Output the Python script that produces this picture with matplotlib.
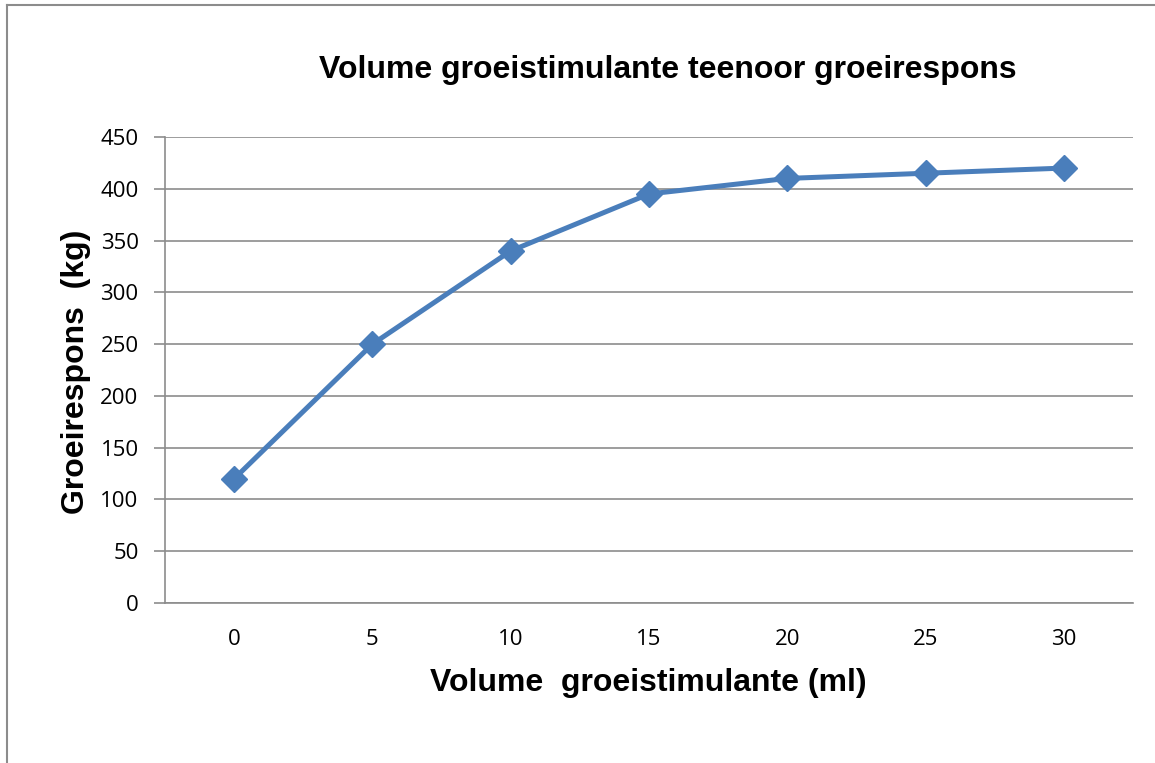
import numpy as np
import matplotlib.pyplot as plt
from matplotlib.lines import Line2D

volume = [0, 5, 10, 15, 20, 25, 30]
respons = [120, 250, 340, 395, 410, 415, 420]
y_ticks = [0, 50, 100, 150, 200, 250, 300, 350, 400, 450]

W, H = 1155, 763
fig = plt.figure(figsize=(W / 100, H / 100), dpi=100)
ax = fig.add_axes([165 / W, 1 - 603 / H, (1133 - 165) / W, (603 - 137) / H])

grey = '#8c8c8c'
blue = '#4a7ebb'

xpos = np.arange(len(volume))
ax.plot(xpos, respons, color=blue, lw=3.6, marker='D', ms=13,
        markerfacecolor=blue, markeredgecolor=blue, zorder=3)

ax.set_xlim(-0.5, len(volume) - 0.5)
ax.set_ylim(0, 450)
ax.set_yticks(y_ticks)
ax.set_xticks(xpos)
ax.set_xticklabels([str(v) for v in volume])
ax.grid(axis='y', color=grey, lw=1.2)
ax.set_axisbelow(True)

for s in ['top', 'right']:
    ax.spines[s].set_visible(False)
for s in ['left', 'bottom']:
    ax.spines[s].set_color(grey)
    ax.spines[s].set_linewidth(1.2)

tick_font = 'Open Sans'
ax.tick_params(axis='y', length=8, width=1.2, color=grey, pad=11, labelsize=16)
ax.tick_params(axis='x', length=0, pad=19, labelsize=16)
for lab in ax.get_xticklabels() + ax.get_yticklabels():
    lab.set_fontfamily(tick_font)

fig.text(668 / W, 1 - 70 / H, 'Volume groeistimulante teenoor groeirespons',
         ha='center', va='center', fontsize=23, fontweight='bold',
         family='Liberation Sans')
fig.text(648 / W, 1 - 683 / H, 'Volume  groeistimulante (ml)',
         ha='center', va='center', fontsize=23, fontweight='bold',
         family='Liberation Sans')
fig.text(76 / W, 1 - 372 / H, 'Groeirespons  (kg)', rotation=90,
         ha='center', va='center', fontsize=23, fontweight='bold',
         family='Liberation Sans')

# chart border (left and top edges visible)
fig.add_artist(Line2D([7 / W, 7 / W], [0, 1 - 5 / H], color=grey, lw=1.5))
fig.add_artist(Line2D([7 / W, 1], [1 - 5 / H, 1 - 5 / H], color=grey, lw=1.5))

fig.savefig('out.png', dpi=100)
